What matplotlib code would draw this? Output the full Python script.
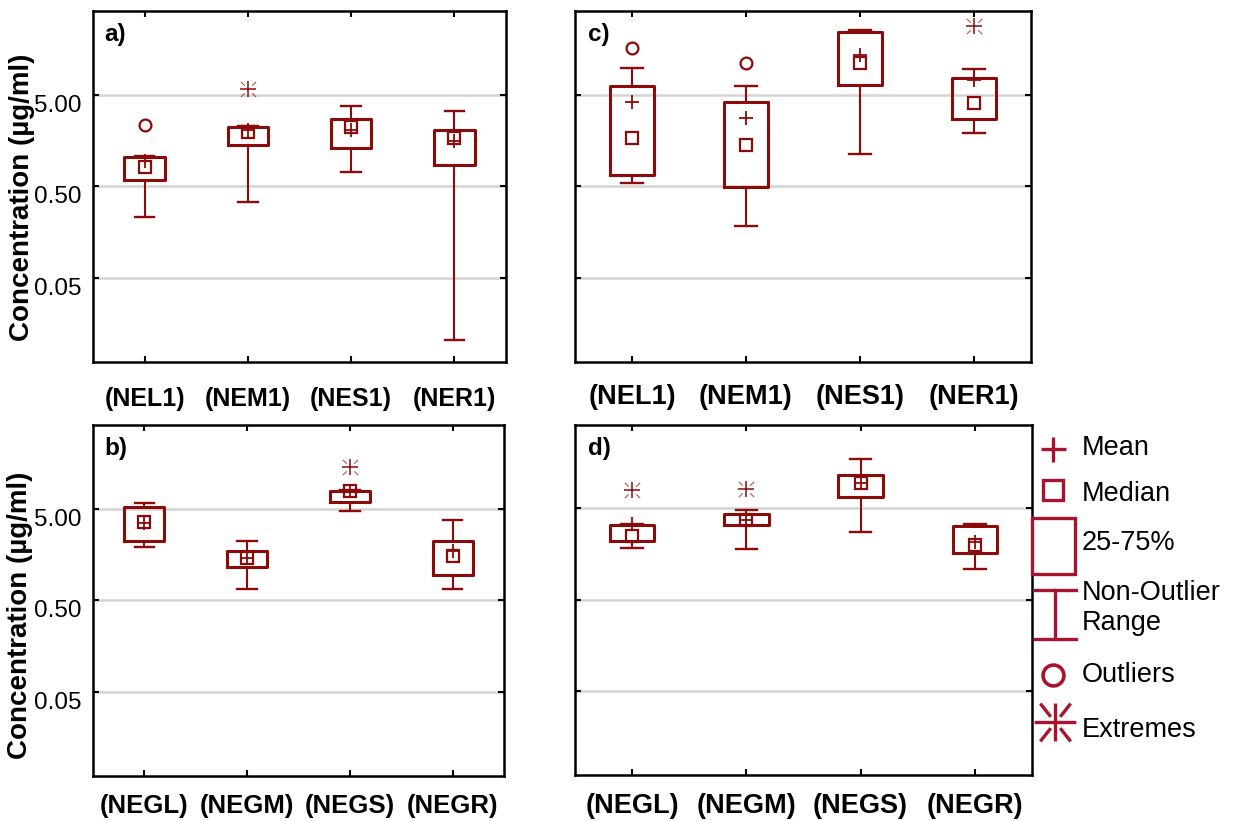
import matplotlib
matplotlib.use('Agg')
import matplotlib.pyplot as plt
from matplotlib.ticker import NullLocator
from matplotlib.patches import Rectangle
from matplotlib.path import Path

plt.rcParams['font.family'] = ['Liberation Sans', 'DejaVu Sans']

# --- datos (µg/ml) ---
cats_top = ['(NEL1)', '(NEM1)', '(NES1)', '(NER1)']
cats_bot = ['(NEGL)', '(NEGM)', '(NEGS)', '(NEGR)']

# a)
a_med = [0.81, 1.96, 2.22, 1.70]
a_mean = [0.95, 2.05, 2.08, 1.56]
a_q1 = [0.58, 1.41, 1.31, 0.855]
a_q3 = [1.05, 2.21, 2.70, 2.05]
a_lo = [0.23, 0.334, 0.71, 0.0104]
a_hi = [1.06, 2.30, 3.74, 3.33]
a_out = [[2.32], [], [], []]
a_ext = [[], [5.70], [], []]

# c)
c_med = [1.66, 1.40, 11.1, 4.04]
c_mean = [4.11, 2.79, 13.5, 7.2]
c_q1 = [0.655, 0.491, 6.40, 2.68]
c_q3 = [6.15, 4.11, 24.1, 7.52]
c_lo = [0.536, 0.184, 1.11, 1.91]
c_hi = [9.66, 6.15, 25.2, 9.50]
c_out = [[16.2], [10.96], [], []]
c_ext = [[], [], [], [28.0]]

# b)
b_med = [3.55, 1.46, 7.7, 1.52]
b_mean = [3.52, 1.45, 7.8, 1.72]
b_q1 = [2.21, 1.15, 5.96, 0.942]
b_q3 = [5.26, 1.71, 7.71, 2.24]
b_lo = [1.92, 0.659, 4.76, 0.670]
b_hi = [5.77, 2.23, 7.9, 3.73]
b_out = [[], [], [], []]
b_ext = [[], [], [14.4], []]

# d)
d_med = [2.50, 3.76, 9.6, 1.97]
d_mean = [3.39, 3.72, 9.4, 2.14]
d_q1 = [2.19, 3.26, 6.6, 1.62]
d_q3 = [3.28, 4.30, 11.6, 3.20]
d_lo = [1.85, 1.81, 2.75, 1.09]
d_hi = [3.39, 4.76, 17.5, 3.34]
d_out = [[], [], [], []]
d_ext = [[7.93], [8.21], [], []]

col = '#8b0a0a'
leg_col = '#a8142e'

# marcador de extremos: cruz sólida + trazos diagonales cortos
diag = Path([(0.5, 0.5), (1, 1), (-0.5, 0.5), (-1, 1),
             (0.5, -0.5), (1, -1), (-0.5, -0.5), (-1, -1)],
            [Path.MOVETO, Path.LINETO] * 4)


def panel(ax, cats, med, mean, q1, q3, lo, hi, out, ext, letter, ylabels, pad, xfs):
    pos = list(range(1, len(cats) + 1))
    stats = [dict(med=m, q1=a, q3=b, whislo=l, whishi=h, fliers=[])
             for m, a, b, l, h in zip(med, q1, q3, lo, hi)]
    ax.bxp(stats, positions=pos, widths=0.39, capwidths=0.19, showfliers=False,
           boxprops=dict(color=col, lw=2.2),
           whiskerprops=dict(color=col, lw=1.5),
           capprops=dict(color=col, lw=1.7),
           medianprops=dict(lw=0))
    ax.plot(pos, med, 's', ms=8.5, mfc='none', mec=col, mew=1.6, zorder=4)
    ax.plot(pos, mean, '+', ms=10, mec=col, mew=1.3, zorder=5)
    for p, vals in zip(pos, out):
        ax.plot([p] * len(vals), vals, 'o', ms=8.5, mfc='none', mec=col, mew=1.6)
    for p, vals in zip(pos, ext):
        ax.plot([p] * len(vals), vals, '+', ms=11, mec=col, mew=1.1, ls='none')
        ax.plot([p] * len(vals), vals, marker=diag, ms=11, mec=col, mew=0.8,
                alpha=0.7, ls='none')

    ax.set_yscale('log')
    ax.set_ylim(0.006, 41)
    ax.set_xlim(0.5, len(cats) + 0.5)
    ax.yaxis.set_minor_locator(NullLocator())
    ax.set_yticks([0.05, 0.5, 5])
    ax.set_xticks(pos)
    ax.set_xticklabels(cats, fontsize=xfs, fontweight='bold')
    if ylabels:
        ax.set_yticklabels(['0.05', '0.50', '5.00'], fontsize=17.5)
        for t in ax.get_yticklabels():
            t.set_va('top')
    ax.tick_params(axis='both', direction='in', length=4, width=1.5,
                   top=True, right=True, labelleft=ylabels)
    ax.tick_params(axis='x', pad=pad)
    ax.tick_params(axis='y', pad=8)
    ax.grid(axis='y', color='#d4d4d4', lw=1.8)
    ax.set_axisbelow(True)
    for s in ax.spines.values():
        s.set_linewidth(1.8)
        s.set_color('black')
    ax.text(0.028, 0.965, letter, transform=ax.transAxes, fontsize=17.5,
            fontweight='bold', va='top', ha='left')


W, H = 1238, 821
fig = plt.figure(figsize=(W / 100, H / 100), dpi=100)


def box(l, t, r, b):
    return [l / W, 1 - b / H, (r - l) / W, (b - t) / H]


ax_a = fig.add_axes(box(93, 11, 506, 362))
ax_c = fig.add_axes(box(575, 11, 1031, 362))
ax_b = fig.add_axes(box(93, 425, 504, 776))
ax_d = fig.add_axes(box(575, 425, 1032, 775))

panel(ax_a, cats_top, a_med, a_mean, a_q1, a_q3, a_lo, a_hi, a_out, a_ext, 'a)', True, 18, 18)
panel(ax_c, cats_top, c_med, c_mean, c_q1, c_q3, c_lo, c_hi, c_out, c_ext, 'c)', False, 16, 19.5)
panel(ax_b, cats_bot, b_med, b_mean, b_q1, b_q3, b_lo, b_hi, b_out, b_ext, 'b)', True, 13, 18.5)
panel(ax_d, cats_bot, d_med, d_mean, d_q1, d_q3, d_lo, d_hi, d_out, d_ext, 'd)', False, 13, 19.5)

fig.text(22 / W, 1 - 197 / H, 'Concentration (µg/ml)', rotation=90, fontsize=20,
         fontweight='bold', ha='center', va='center')
fig.text(20 / W, 1 - 615 / H, 'Concentration (µg/ml)', rotation=90, fontsize=20,
         fontweight='bold', ha='center', va='center')

# --- leyenda dibujada a mano ---
star = Path([(0, -1), (0, 1), (-1.1, 0), (1.1, 0),
             (-0.8, 1.0), (-0.25, 0.3), (0.8, 1.0), (0.25, 0.3),
             (-0.8, -1.0), (-0.25, -0.3), (0.8, -1.0), (0.25, -0.3)],
            [Path.MOVETO, Path.LINETO] * 6)

lg = fig.add_axes(box(1025, 425, 1238, 775))
lg.set_xlim(1025, 1238)
lg.set_ylim(775, 425)
lg.axis('off')
lg.plot(1053, 449, '+', ms=18, mec=leg_col, mew=2.4)
lg.plot(1053, 490, 's', ms=14, mfc='none', mec=leg_col, mew=2.4)
lg.add_patch(Rectangle((1032, 518), 43, 56, fill=False, ec=leg_col, lw=2.4))
lg.plot([1055, 1055], [590, 639], color=leg_col, lw=2.4)
lg.plot([1035, 1076], [590, 590], color=leg_col, lw=2.4)
lg.plot([1035, 1076], [639, 639], color=leg_col, lw=2.4)
lg.plot(1053, 675, 'o', ms=15, mfc='none', mec=leg_col, mew=2.6)
lg.plot(1055, 722, marker=star, ms=30, mec=leg_col, mew=2.4, ls='none')
for ty, txt in [(448, 'Mean'), (494, 'Median'), (543, '25-75%'),
                (608, 'Non-Outlier\nRange'), (675, 'Outliers'), (730, 'Extremes')]:
    lg.text(1082, ty, txt, fontsize=19.5, va='center', ha='left', linespacing=1.2)

fig.savefig('out.png', dpi=100)
